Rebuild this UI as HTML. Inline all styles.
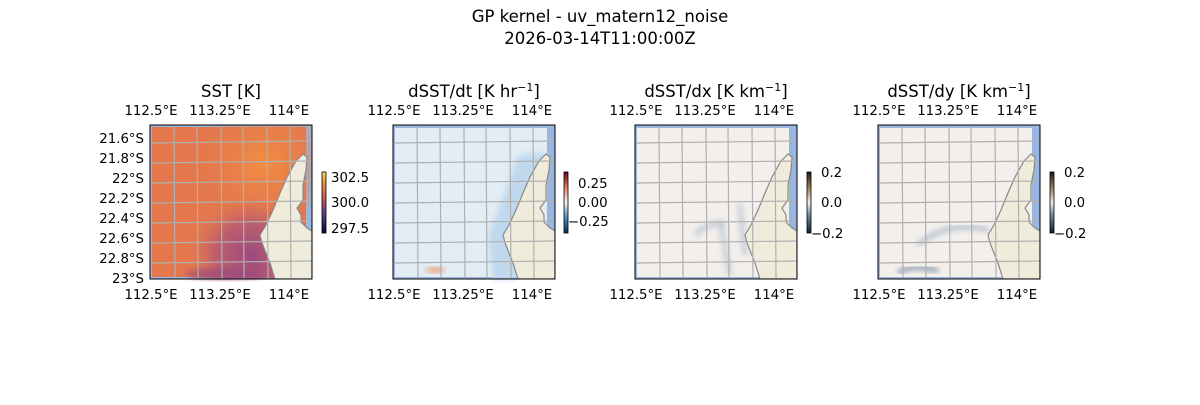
<!DOCTYPE html>
<html><head><meta charset="utf-8"><style>
body{margin:0;background:#fff;}
svg text{font-family:"DejaVu Sans","Liberation Sans",sans-serif;fill:#000;}
</style></head><body>
<svg width="1200" height="400" xmlns="http://www.w3.org/2000/svg">
<defs>
<symbol id="land" viewBox="0 0 162 154"><polygon points="153,29 157,32 156,45 153,60 153,75 147,83 151,90 151,97 157,103 162,106 162,154 125,154 120,138 112,118 110,110 116,100 123,85 130,68 137,52 146,36" fill="#efecdc" stroke="#888" stroke-width="1.2"/></symbol>
<symbol id="grid" viewBox="0 0 162 154"><g stroke="#b0b0b0" stroke-width="1.2" fill="none">
<path d="M24 0L25 154M47 0L48 154M71 0L72 154M93 0L94 154M117 0L118 154M140 0L141 154"/>
<path d="M0 18L162 16M0 38L162 36M0 58L162 56M0 78L162 76M0 98L162 96M0 118L162 116M0 138L162 136"/></g></symbol>
<linearGradient id="cb1" x1="0" y1="1" x2="0" y2="0"><stop offset="0" stop-color="#0d0a30"/><stop offset=".3" stop-color="#5a3a8a"/><stop offset=".6" stop-color="#d4605a"/><stop offset=".85" stop-color="#f29a40"/><stop offset="1" stop-color="#f5e860"/></linearGradient>
<linearGradient id="cb2" x1="0" y1="1" x2="0" y2="0"><stop offset="0" stop-color="#0a3060"/><stop offset=".25" stop-color="#4a8ec0"/><stop offset=".5" stop-color="#f5f5f5"/><stop offset=".75" stop-color="#e08060"/><stop offset="1" stop-color="#700010"/></linearGradient>
<linearGradient id="cb3" x1="0" y1="1" x2="0" y2="0"><stop offset="0" stop-color="#10202a"/><stop offset=".3" stop-color="#7090a0"/><stop offset=".5" stop-color="#f3f1ee"/><stop offset=".7" stop-color="#b09070"/><stop offset="1" stop-color="#2a1a0a"/></linearGradient>
<radialGradient id="purp" cx=".62" cy=".85" r=".4"><stop offset="0" stop-color="#9a4a80"/><stop offset=".55" stop-color="#b05678" stop-opacity=".75"/><stop offset="1" stop-color="#e07550" stop-opacity="0"/></radialGradient>
<radialGradient id="org" cx=".7" cy=".25" r=".45"><stop offset="0" stop-color="#f28f42"/><stop offset="1" stop-color="#e4784c" stop-opacity="0"/></radialGradient>
<filter id="bl"><feGaussianBlur stdDeviation="3"/></filter>
</defs>
<text x="600" y="22" font-size="16.5" text-anchor="middle">GP kernel - uv_matern12_noise</text>
<text x="600" y="44" font-size="16.5" text-anchor="middle">2026-03-14T11:00:00Z</text>

<!-- Panel 1 -->
<g transform="translate(150,125)">
<rect width="162" height="154" fill="#9ab6e0"/>
<rect x="2" y="2" width="154" height="150" fill="#e4784c"/>
<rect x="0" y="0" width="162" height="154" fill="url(#org)"/>
<rect width="162" height="154" fill="url(#purp)"/>
<ellipse cx="75" cy="149" rx="40" ry="6" fill="#9a4a80" opacity=".7" filter="url(#bl)"/>
<use href="#land" width="162" height="154"/>
<use href="#grid" width="162" height="154"/>
<rect width="162" height="154" fill="none" stroke="#000" stroke-width="1"/>
</g>
<text x="231" y="97" font-size="16.5" text-anchor="middle">SST [K]</text>
<g font-size="13.3" text-anchor="middle"><text x="151" y="115">112.5°E</text><text x="220" y="115">113.25°E</text><text x="289" y="115">114°E</text>
<text x="151" y="299">112.5°E</text><text x="220" y="299">113.25°E</text><text x="289" y="299">114°E</text></g>
<g font-size="13.3" text-anchor="end"><text x="144" y="143">21.6°S</text><text x="144" y="163">21.8°S</text><text x="144" y="183">22°S</text><text x="144" y="203">22.2°S</text><text x="144" y="223">22.4°S</text><text x="144" y="243">22.6°S</text><text x="144" y="263">22.8°S</text><text x="144" y="283">23°S</text></g>
<rect x="322" y="172" width="4" height="61" fill="url(#cb1)" stroke="#000" stroke-width=".8"/>
<g font-size="13.3"><text x="331" y="182">302.5</text><text x="331" y="207">300.0</text><text x="331" y="233">297.5</text></g>

<!-- Panel 2 -->
<g transform="translate(393,125)">
<rect width="162" height="154" fill="#9ab6e0"/>
<rect x="2" y="3" width="152" height="149" fill="#e2edf6"/>
<path d="M125 30L155 28L150 60L120 110L125 154L100 154L95 110L115 60Z" fill="#c0d8ee" filter="url(#bl)"/>
<ellipse cx="42" cy="145" rx="10" ry="3" fill="#f0a080" filter="url(#bl)"/>
<use href="#land" width="162" height="154"/>
<use href="#grid" width="162" height="154"/>
<rect width="162" height="154" fill="none" stroke="#000"/>
</g>
<text x="474" y="97" font-size="16.5" text-anchor="middle">dSST/dt [K hr<tspan dy="-6" font-size="11">−1</tspan><tspan dy="6">]</tspan></text>
<g font-size="13.3" text-anchor="middle"><text x="394" y="115">112.5°E</text><text x="463" y="115">113.25°E</text><text x="532" y="115">114°E</text>
<text x="394" y="299">112.5°E</text><text x="463" y="299">113.25°E</text><text x="532" y="299">114°E</text></g>
<rect x="564" y="172" width="4" height="61" fill="url(#cb2)" stroke="#000" stroke-width=".8"/>
<g font-size="13.3"><text x="578" y="188">0.25</text><text x="578" y="207">0.00</text><text x="568" y="226">−0.25</text></g>

<!-- Panel 3 -->
<g transform="translate(635,125)">
<rect width="162" height="154" fill="#9ab6e0"/>
<rect x="2" y="3" width="152" height="149" fill="#f3efec"/>
<path d="M60 110Q75 95 90 100M85 95L95 150M105 80L110 130" stroke="#b8c4d0" stroke-width="4" fill="none" filter="url(#bl)"/>
<use href="#land" width="162" height="154"/>
<use href="#grid" width="162" height="154"/>
<rect width="162" height="154" fill="none" stroke="#000"/>
</g>
<text x="716" y="97" font-size="16.5" text-anchor="middle">dSST/dx [K km<tspan dy="-6" font-size="11">−1</tspan><tspan dy="6">]</tspan></text>
<g font-size="13.3" text-anchor="middle"><text x="636" y="115">112.5°E</text><text x="705" y="115">113.25°E</text><text x="774" y="115">114°E</text>
<text x="636" y="299">112.5°E</text><text x="705" y="299">113.25°E</text><text x="774" y="299">114°E</text></g>
<rect x="807" y="172" width="4" height="61" fill="url(#cb3)" stroke="#000" stroke-width=".8"/>
<g font-size="13.3"><text x="821" y="177">0.2</text><text x="821" y="207">0.0</text><text x="811" y="238">−0.2</text></g>

<!-- Panel 4 -->
<g transform="translate(878,125)">
<rect width="162" height="154" fill="#9ab6e0"/>
<rect x="2" y="3" width="152" height="149" fill="#f3efec"/>
<path d="M40 120Q70 95 110 105" stroke="#a8b8c8" stroke-width="4" fill="none" filter="url(#bl)"/>
<path d="M20 148Q35 138 60 146" stroke="#7a8ca0" stroke-width="4" fill="none" filter="url(#bl)"/>
<use href="#land" width="162" height="154"/>
<use href="#grid" width="162" height="154"/>
<rect width="162" height="154" fill="none" stroke="#000"/>
</g>
<text x="959" y="97" font-size="16.5" text-anchor="middle">dSST/dy [K km<tspan dy="-6" font-size="11">−1</tspan><tspan dy="6">]</tspan></text>
<g font-size="13.3" text-anchor="middle"><text x="879" y="115">112.5°E</text><text x="948" y="115">113.25°E</text><text x="1017" y="115">114°E</text>
<text x="879" y="299">112.5°E</text><text x="948" y="299">113.25°E</text><text x="1017" y="299">114°E</text></g>
<rect x="1050" y="172" width="4" height="61" fill="url(#cb3)" stroke="#000" stroke-width=".8"/>
<g font-size="13.3"><text x="1064" y="177">0.2</text><text x="1064" y="207">0.0</text><text x="1054" y="238">−0.2</text></g>
</svg>
</body></html>
